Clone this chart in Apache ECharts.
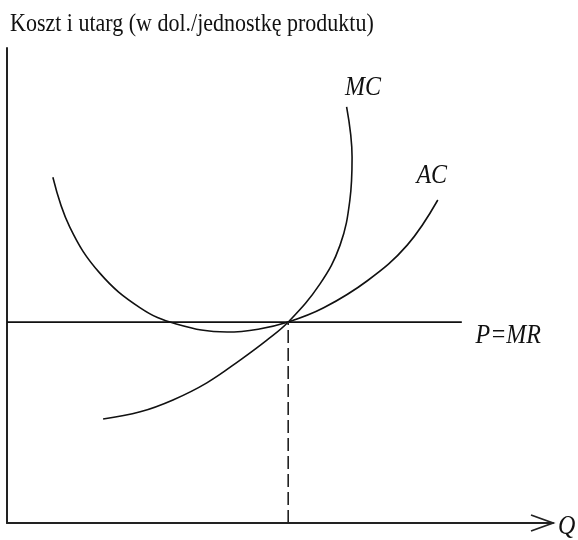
<!DOCTYPE html>
<html>
<head>
<meta charset="utf-8">
<script src="https://cdn.jsdelivr.net/npm/echarts@6/dist/echarts.min.js"></script>
<style>
  html, body { margin: 0; padding: 0; background: #fff; }
  #chart { width: 578px; height: 540px; }
</style>
</head>
<body>
<div id="chart"></div>
<script>
// Cost curves of a competitive firm, in arbitrary quantity / cost units (0–100).
const acQuantity = [8.4, 11.5, 17.0, 24.4, 31.0, 40.3, 46.0, 51.5, 58.0, 66.0, 73.3, 78.9];
const acCost     = [72.8, 62.3, 52.6, 45.3, 41.9, 40.2, 40.8, 42.3, 45.3, 51.0, 58.5, 68.0];

const mcQuantity = [17.6, 24.4, 30.4, 36.6, 42.7, 47.6, 51.5, 57.3, 61.0, 62.8, 63.2, 62.2];
const mcCost     = [21.9, 23.4, 25.9, 29.5, 34.3, 38.5, 42.3, 50.3, 58.5, 68.0, 77.0, 87.6];

// Market price (= marginal revenue) and the profit-maximising output
const price = 42.3;
const priceLineEnd = 83.3;
const optimalQuantity = 51.5;

// Text
const titleText = 'Koszt i utarg (w dol./jednostkę produktu)';
const axisNameQ = 'Q';
const curveNames = ['MC', 'AC', 'P=MR'];

const ink = '#111';
const serif = "'Liberation Serif', 'Times New Roman', serif";
const textStretch = 1.15;

const zip = (xs, ys) => xs.map((x, i) => [x, ys[i]]);

const hiddenAxis = {
  type: 'value', min: 0, max: 100,
  axisLine: { show: true, lineStyle: { color: '#222', width: 2 } },
  axisTick: { show: false }, axisLabel: { show: false }, splitLine: { show: false }
};

const curve = (name, data, width) => ({
  name, type: 'line', data, smooth: 0.4, symbol: 'none', silent: true,
  lineStyle: { color: ink, width: width || 1.6 }
});

const option = {
  animation: false,
  backgroundColor: '#fff',
  grid: { left: 7, right: 25, top: 48, bottom: 17, containLabel: false },
  xAxis: Object.assign({}, hiddenAxis),
  yAxis: Object.assign({}, hiddenAxis),
  series: [
    curve('AC', zip(acQuantity, acCost)),
    curve('MC', zip(mcQuantity, mcCost)),
    curve('P=MR', [[0, price], [priceLineEnd, price]], 1.8),
    {
      name: 'Q*', type: 'line', symbol: 'none', silent: true,
      data: [[optimalQuantity, 0], [optimalQuantity, price]],
      lineStyle: { color: '#222', width: 1.6, type: [13, 5] }
    }
  ]
};

const chart = echarts.init(document.getElementById('chart'), null, { renderer: 'canvas' });
chart.setOption(option);

const toPx = p => chart.convertToPixel({ gridIndex: 0 }, p);
const axisEnd = toPx([100, 0]);
const italic = (text, pos, align) => ({
  type: 'text', x: pos[0], y: pos[1], scaleY: textStretch, silent: true,
  style: { text, fill: ink, font: 'italic 24px ' + serif, textAlign: align || 'center', textVerticalAlign: 'middle' }
});

chart.setOption({
  graphic: [
    {
      type: 'text', x: 10, y: 12, scaleY: textStretch, silent: true,
      style: { text: titleText, fill: ink, font: '22px ' + serif, textAlign: 'left', textVerticalAlign: 'top' }
    },
    {
      type: 'polyline', silent: true,
      shape: { points: [[axisEnd[0] - 22, axisEnd[1] - 8], [axisEnd[0], axisEnd[1]], [axisEnd[0] - 22, axisEnd[1] + 8]] },
      style: { stroke: '#222', lineWidth: 1.8, fill: null }
    },
    italic(axisNameQ, [axisEnd[0] + 5, axisEnd[1] + 4], 'left'),
    italic(curveNames[0], toPx([65.2, 91.6])),
    italic(curveNames[1], toPx([77.8, 73.1])),
    italic(curveNames[2], toPx([91.8, 39.4]))
  ]
});
</script>
</body>
</html>
